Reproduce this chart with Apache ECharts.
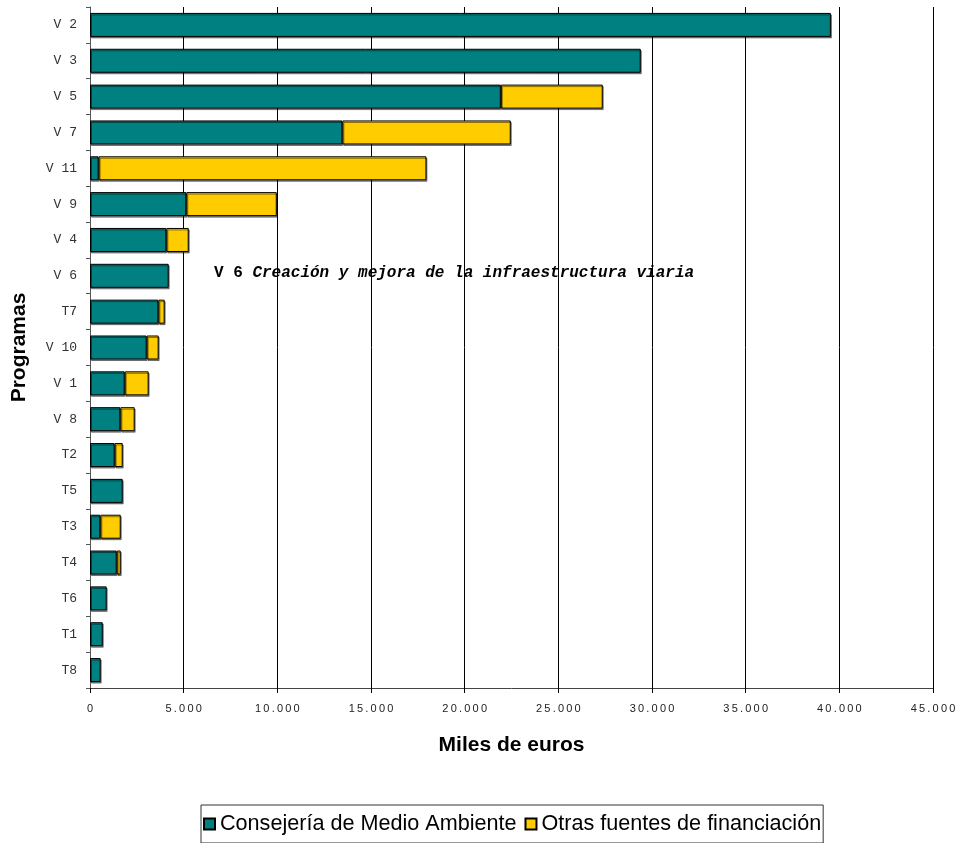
<!DOCTYPE html>
<html><head><meta charset="utf-8">
<script src="https://cdn.jsdelivr.net/npm/echarts@6/dist/echarts.min.js"></script>
<style>html,body{margin:0;padding:0;background:#fff}#c{width:962px;height:843px}</style>
</head><body><div id="c"></div>
<script>
const categories = ['V 2','V 3','V 5','V 7','V 11','V 9','V 4','V 6','T7','V 10','V 1','V 8','T2','T5','T3','T4','T6','T1','T8'];
const consejeria = [39550,29400,21930,13470,460,5140,4075,4200,3650,3025,1850,1620,1315,1745,550,1425,890,680,570];
const otras =      [null,null,5440,8990,17500,4830,1195,null,335,640,1280,765,430,null,1090,215,null,null,null];
const seriesNames = ['Consejería de Medio Ambiente','Otras fuentes de financiación'];
const xTicks = [0,5000,10000,15000,20000,25000,30000,35000,40000,45000];

const chart = echarts.init(document.getElementById('c'));
function fmt(v){
  const t = v === 0 ? '0' : (Math.floor(v/1000)+'.'+String(v%1000).padStart(3,'0'));
  return t.split('').join('\u2009');
}
const barStyle = (c)=>({color:c,borderColor:'#000',borderWidth:1,shadowColor:'rgba(0,0,0,0.45)',shadowOffsetX:1,shadowOffsetY:1.5,shadowBlur:0});
chart.setOption({
  animation:false,
  grid:{left:90,right:29,top:7,bottom:155,containLabel:false},
  xAxis:{type:'value',min:xTicks[0],max:xTicks[xTicks.length-1],interval:5000,
    axisLine:{show:true,lineStyle:{color:'#444',width:1}},
    axisTick:{show:true,length:5,lineStyle:{color:'#000'}},
    splitLine:{show:true,lineStyle:{color:'#000',width:1}},
    axisLabel:{formatter:fmt,fontFamily:'Liberation Sans',fontSize:11,color:'#222',margin:15},
    name:'Miles de euros',nameLocation:'middle',nameGap:47,
    nameTextStyle:{fontFamily:'Liberation Sans',fontWeight:'bold',fontSize:21,color:'#000'}
  },
  yAxis:{type:'category',data:categories,inverse:true,
    axisLine:{show:true,lineStyle:{color:'#555',width:1}},
    axisTick:{show:true,length:4,lineStyle:{color:'#555'}},
    axisLabel:{fontFamily:'Liberation Mono',fontSize:13,color:'#333',margin:13},
    name:'Programas',nameLocation:'middle',nameGap:60,nameRotate:90,
    nameTextStyle:{fontFamily:'Liberation Sans',fontWeight:'bold',fontSize:21,color:'#000'}
  },
  legend:{left:201,top:805,orient:'horizontal',icon:'rect',itemWidth:11,itemHeight:11,itemGap:8,
    borderColor:'#333',borderWidth:1,padding:[8,2,8,2],
    textStyle:{fontFamily:'Liberation Sans',fontSize:21.6,color:'#000'},
    data:seriesNames},
  series:[
    {name:seriesNames[0],type:'bar',stack:'t',data:consejeria,barWidth:'67%',itemStyle:barStyle('#008080')},
    {name:seriesNames[1],type:'bar',stack:'t',data:otras,barWidth:'67%',itemStyle:barStyle('#FFCC00')}
  ],
  graphic:[{type:'text',left:214,top:265,silent:true,
    style:{text:'{a|V 6 }{b|Creación y mejora de la infraestructura viaria}',
      rich:{a:{fontFamily:'Liberation Mono',fontWeight:'bold',fontSize:16,fill:'#000'},
            b:{fontFamily:'Liberation Mono',fontWeight:'bold',fontStyle:'italic',fontSize:16,fill:'#000'}}}}]
});
</script></body></html>
